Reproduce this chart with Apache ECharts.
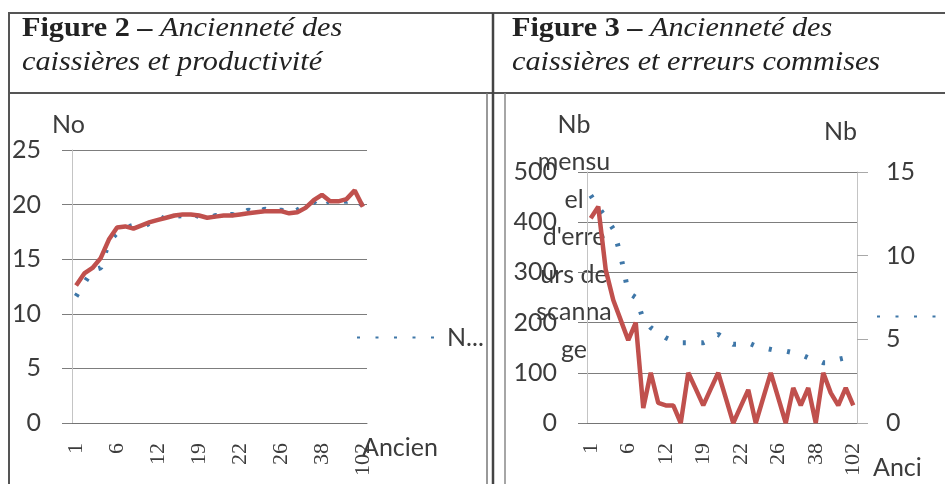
<!DOCTYPE html>
<html>
<head>
<meta charset="utf-8">
<script src="https://cdn.jsdelivr.net/npm/echarts@6/dist/echarts.min.js"></script>
<style>
  html, body { margin: 0; padding: 0; background: #fff; }
  #chart { width: 945px; height: 484px; }
</style>
</head>
<body>
<div id="chart"></div>
<script>
// ancienneté (seniority) categories, same for both figures
var categories = ['1','2','3','4','5','6','7','8','9','10','12','13','14','15','17','19','19','20',
  '21','21','22','22','23','24','25','26','28','30','33','35','38','42','48','60','75','102'];

// Figure 2 : productivité
var prodValues = [11.6, 12.8, 14.0, 14.2, 16.6, 17.4, 17.9, 18.1, 17.9, 18.3, 19.0, 18.6, 18.9, 19.0,
  19.2, 18.9, 18.7, 19.0, 18.8, 19.1, 18.9, 19.5, 19.1, 19.6, 19.3, 19.5, 19.1, 19.5, 19.9, 20.2,
  20.8, 20.1, 20.4, 20.3, 20.6, 19.9];
var prodTrend = [12.6, 13.7, 14.2, 15.1, 16.8, 17.9, 18.0, 17.8, 18.1, 18.4, 18.6, 18.8, 19.0, 19.1,
  19.1, 19.0, 18.8, 18.9, 19.0, 19.0, 19.1, 19.2, 19.3, 19.4, 19.4, 19.4, 19.2, 19.3, 19.7, 20.4,
  20.9, 20.3, 20.3, 20.5, 21.3, 19.8];

// Figure 3 : erreurs commises
var erreursMensuelles = [408, 431, 305, 245, 205, 165, 200, 30, 100, 40, 35, 35, 0, 100, 68, 35, 68,
  100, 50, 0, 33, 66, 0, 50, 100, 50, 0, 70, 35, 70, 0, 100, 60, 35, 70, 35];
var erreursParCaisse = [13.6, 12.9, 12.3, 11.6, 10.0, 7.8, 7.5, 6.2, 5.7, 5.4, 5.1, 4.9, 4.8, 4.8, 4.8,
  4.8, 5.0, 5.3, 5.0, 4.7, 4.7, 4.8, 4.6, 4.5, 4.4, 4.3, 4.3, 4.2, 4.1, 3.9, 3.8, 3.6, 3.6, 3.8, 3.9, 3.9];

var leftTicks = [0, 5, 10, 15, 20, 25];
var errTicks = [0, 100, 200, 300, 400, 500];
var errRightTicks = [0, 5, 10, 15];

var chart = echarts.init(document.getElementById('chart'));

var RED = '#C0504D', BLUE = '#3f77a8';
var TXT = '#3c3c3c', GRIDC = '#7d7d7d', AXC = '#c4c4c4';
var SANS = 'Lato', SERIF = 'Liberation Serif';

function xAxisOf(idx, nameStr, gap, padTop) {
  return {
    type: 'category', gridIndex: idx, data: categories,
    name: nameStr, nameLocation: 'end', nameGap: gap, nameMoveOverlap: false,
    nameTextStyle: { fontFamily: SANS, fontSize: 25, color: TXT, align: 'left', verticalAlign: 'top', padding: [padTop, 0, 0, 0] },
    axisLine: { lineStyle: { color: '#747474', width: 1 } },
    axisTick: { interval: 0, length: 8, lineStyle: { color: '#8a8a8a' } },
    axisLabel: { interval: 4, rotate: 90, margin: 20, fontFamily: SERIF, fontSize: 22, color: TXT },
    splitLine: { show: false }
  };
}

// round-dot dash pattern
var dotted = [3, 15.5];

var option = {
  backgroundColor: '#fff',
  animation: false,
  graphic: [
    { type: 'line', shape: { x1: 8, y1: 13, x2: 945, y2: 13 }, style: { stroke: '#555', lineWidth: 2 } },
    { type: 'line', shape: { x1: 9, y1: 13, x2: 9, y2: 484 }, style: { stroke: '#555', lineWidth: 2 } },
    { type: 'line', shape: { x1: 8, y1: 93, x2: 945, y2: 93 }, style: { stroke: '#555', lineWidth: 2 } },
    { type: 'line', shape: { x1: 487, y1: 93, x2: 487, y2: 484 }, style: { stroke: '#777', lineWidth: 1.5 } },
    { type: 'line', shape: { x1: 493, y1: 13, x2: 493, y2: 484 }, style: { stroke: '#444', lineWidth: 2.5 } },
    { type: 'line', shape: { x1: 505, y1: 93, x2: 505, y2: 484 }, style: { stroke: '#888', lineWidth: 1.5 } },
    {
      type: 'text', x: 22, y: 29, scaleX: 1.08,
      style: {
        text: '{b|Figure 2 – }{i|Ancienneté des}', fill: '#222', verticalAlign: 'middle',
        rich: {
          b: { fontFamily: SERIF, fontSize: 28, fontWeight: 'bold', fill: '#222' },
          i: { fontFamily: SERIF, fontSize: 28, fontStyle: 'italic', fill: '#222' }
        }
      }
    },
    {
      type: 'text', x: 22, y: 63, scaleX: 1.08,
      style: { text: 'caissières et productivité', fontFamily: SERIF, fontSize: 28, fontStyle: 'italic', fill: '#222', verticalAlign: 'middle' }
    },
    {
      type: 'text', x: 512, y: 29, scaleX: 1.08,
      style: {
        text: '{b|Figure 3 – }{i|Ancienneté des}', fill: '#222', verticalAlign: 'middle',
        rich: {
          b: { fontFamily: SERIF, fontSize: 28, fontWeight: 'bold', fill: '#222' },
          i: { fontFamily: SERIF, fontSize: 28, fontStyle: 'italic', fill: '#222' }
        }
      }
    },
    {
      type: 'text', x: 512, y: 63, scaleX: 1.08,
      style: { text: 'caissières et erreurs commises', fontFamily: SERIF, fontSize: 28, fontStyle: 'italic', fill: '#222', verticalAlign: 'middle' }
    }
  ],
  grid: [
    { left: 72, top: 150, width: 295, height: 273, containLabel: false, outerBoundsMode: 'none' },
    { left: 587, top: 172, width: 270, height: 251, containLabel: false, outerBoundsMode: 'none' }
  ],
  legend: [
    {
      data: ['Nombre d\'articles scannés par minute'], left: 356, top: 325, padding: 0,
      itemWidth: 85, itemHeight: 10,
      itemStyle: { color: 'rgba(0,0,0,0)', borderWidth: 0 },
      textStyle: { fontFamily: SANS, fontSize: 25, color: TXT },
      formatter: function (n) { return n.charAt(0) + '...'; }
    },
    {
      data: ['Nb d\'erreurs par caissière'], left: 876, top: 304, padding: 0,
      itemWidth: 85, itemHeight: 10,
      itemStyle: { color: 'rgba(0,0,0,0)', borderWidth: 0 },
      textStyle: { fontFamily: SANS, fontSize: 25, color: TXT }
    }
  ],
  xAxis: [
    xAxisOf(0, 'Ancien', -5, 12),
    xAxisOf(1, 'Anci', 16, 32)
  ],
  yAxis: [
    {
      type: 'value', gridIndex: 0, min: leftTicks[0], max: leftTicks[leftTicks.length - 1], interval: 5,
      name: 'No', nameLocation: 'end', nameGap: 25, nameMoveOverlap: false,
      nameTextStyle: { fontFamily: SANS, fontSize: 25, color: TXT, align: 'center', verticalAlign: 'middle', padding: [0, 7, 0, 0] },
      axisLine: { show: true, lineStyle: { color: AXC } },
      axisTick: { show: true, length: 10, lineStyle: { color: GRIDC } },
      axisLabel: { margin: 31, fontFamily: SANS, fontSize: 25, color: TXT },
      splitLine: { lineStyle: { color: GRIDC, width: 1 } }
    },
    {
      type: 'value', gridIndex: 1, min: errTicks[0], max: errTicks[errTicks.length - 1], interval: 100,
      name: 'Nb\nmensu\nel\nd\'erre\nurs de\nscanna\nge', nameLocation: 'end', nameGap: 66, nameMoveOverlap: false,
      nameTextStyle: { fontFamily: SANS, fontSize: 25, lineHeight: 37.5, color: TXT, align: 'center', verticalAlign: 'top', padding: [0, 26, 0, 0] },
      axisLine: { show: true, lineStyle: { color: AXC } },
      axisTick: { show: true, length: 9, lineStyle: { color: GRIDC } },
      axisLabel: { margin: 30, fontFamily: SANS, fontSize: 25, color: TXT },
      splitLine: { lineStyle: { color: GRIDC, width: 1 } }
    },
    {
      type: 'value', gridIndex: 1, position: 'right',
      min: errRightTicks[0], max: errRightTicks[errRightTicks.length - 1], interval: 5,
      name: 'Nb', nameLocation: 'end', nameGap: 40, nameMoveOverlap: false,
      nameTextStyle: { fontFamily: SANS, fontSize: 25, color: TXT, align: 'right', verticalAlign: 'middle' },
      axisLine: { show: true, lineStyle: { color: AXC } },
      axisTick: { show: true, length: 11, lineStyle: { color: '#a8a8a8' } },
      axisLabel: { margin: 29, fontFamily: SANS, fontSize: 25, color: TXT },
      splitLine: { show: false }
    }
  ],
  series: [
    {
      name: 'Nombre d\'articles scannés par minute', type: 'line', xAxisIndex: 0, yAxisIndex: 0,
      data: prodValues, symbol: 'none', z: 2,
      lineStyle: { color: BLUE, width: 5, type: dotted }, itemStyle: { color: BLUE }
    },
    {
      name: 'Moyenne mobile', type: 'line', xAxisIndex: 0, yAxisIndex: 0,
      data: prodTrend, symbol: 'none', z: 3,
      lineStyle: { color: RED, width: 4.5 }, itemStyle: { color: RED }
    },
    {
      name: 'Nb mensuel d\'erreurs de scannage', type: 'line', xAxisIndex: 1, yAxisIndex: 1,
      data: erreursMensuelles, symbol: 'none', z: 3,
      lineStyle: { color: RED, width: 4.5 }, itemStyle: { color: RED }
    },
    {
      name: 'Nb d\'erreurs par caissière', type: 'line', xAxisIndex: 1, yAxisIndex: 2,
      data: erreursParCaisse, symbol: 'none', z: 2,
      lineStyle: { color: BLUE, width: 5, type: dotted }, itemStyle: { color: BLUE }
    }
  ]
};

chart.setOption(option);
</script>
</body>
</html>
